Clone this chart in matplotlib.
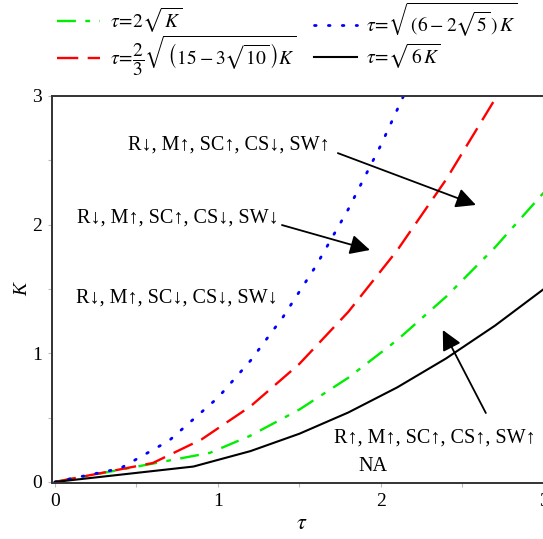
import matplotlib
matplotlib.use("Agg")
import matplotlib.pyplot as plt
from matplotlib.ticker import MultipleLocator

plt.rcParams['font.family'] = ['Liberation Serif', 'DejaVu Serif']
plt.rcParams['mathtext.fontset'] = 'stix'

tau_green = [0, 0.95, 1.2, 1.5, 1.8, 2.1, 2.4, 2.7, 3.0, 3.1]
K_green = [0, 0.226, 0.36, 0.563, 0.81, 1.103, 1.44, 1.823, 2.25, 2.40]

tau_red = [0, 0.6, 0.9, 1.2, 1.5, 1.8, 2.1, 2.4, 2.7, 2.75]
K_red = [0, 0.147, 0.331, 0.588, 0.918, 1.322, 1.80, 2.35, 2.975, 3.09]

tau_blue = [0, 0.4, 0.7, 1.0, 1.2, 1.4, 1.6, 1.8, 2.0, 2.2]
K_blue = [0, 0.105, 0.321, 0.655, 0.943, 1.283, 1.676, 2.12, 2.618, 3.168]

tau_black = [0, 0.85, 1.2, 1.5, 1.8, 2.1, 2.4, 2.7, 3.0, 3.1]
K_black = [0, 0.12, 0.24, 0.375, 0.54, 0.735, 0.96, 1.215, 1.5, 1.6]

labels = [r'$\tau\!=\!2\sqrt{\,K}$',
          r'$\tau\!=\!\dfrac{2}{3}\sqrt{\,\left(15-3\sqrt{10}\,\right)K}$',
          r'$\tau\!=\!\sqrt{\,(6-2\sqrt{5}\,)\,K}$',
          r'$\tau\!=\!\sqrt{\,6\,K}$']

region_texts = ['R↓, M↑, SC↑, CS↓, SW↑',
                'R↓, M↑, SC↑, CS↓, SW↓',
                'R↓, M↑, SC↓, CS↓, SW↓',
                'R↑, M↑, SC↑, CS↑, SW↑',
                'NA']

W, H = 543, 539
fig = plt.figure(figsize=(W/100, H/100), dpi=100)
ax = fig.add_axes([52/W, 56/H, 500/W, 387/H])
ax.set_xlim(-0.018, 3.05)
ax.set_ylim(-0.008, 3.0)

lg, = ax.plot(tau_green, K_green, color='#00ee00', lw=1.7, dashes=(8, 4, 2, 4))
lr, = ax.plot(tau_red, K_red, color='#ff0000', lw=1.7, dashes=(9, 4))
lb, = ax.plot(tau_blue, K_blue, color='#0000ff', lw=2.0, dashes=(0.6, 4.4), dash_capstyle='round')
lk, = ax.plot(tau_black, K_black, color='black', lw=1.5)

for s in ax.spines.values():
    s.set_linewidth(1.4)
    s.set_color('#333333')

ax.xaxis.set_major_locator(MultipleLocator(1))
ax.yaxis.set_major_locator(MultipleLocator(1))
ax.xaxis.set_minor_locator(MultipleLocator(0.5))
ax.yaxis.set_minor_locator(MultipleLocator(0.5))
ax.tick_params(which='both', direction='out', length=3, width=0.8, color='#bbbbbb', labelsize=14, pad=4)

ax.set_xlabel(r'$\tau$', fontsize=16, labelpad=4)
ax.set_ylabel('K', fontsize=14, style='italic', labelpad=1)

fs = 14.5
ax.text(1.068, 2.618, region_texts[0], ha='center', va='center', fontsize=fs)
ax.text(0.752, 2.05, region_texts[1], ha='center', va='center', fontsize=fs)
ax.text(0.75, 1.43, region_texts[2], ha='center', va='center', fontsize=fs)
ax.text(2.331, 0.342, region_texts[3], ha='center', va='center', fontsize=fs)
ax.text(1.951, 0.117, region_texts[4], ha='center', va='center', fontsize=fs)

ap = dict(arrowstyle='-|>', mutation_scale=30, lw=1.3, color='black', shrinkA=0, shrinkB=0)
ax.annotate('', xy=(2.583, 2.153), xytext=(1.736, 2.556), arrowprops=ap)
ax.annotate('', xy=(1.933, 1.803), xytext=(1.393, 1.997), arrowprops=ap)
ax.annotate('', xy=(2.380, 1.181), xytext=(2.644, 0.536), arrowprops=ap)

# legend entries placed as in the original two-column layout
positions = [(57, 20), (57, 56), (314, 20), (314, 56)]
for h, lab, (px, py) in zip([lg, lr, lb, lk], labels, positions):
    fig.legend([h], [lab], loc='center left', bbox_to_anchor=(px/W, 1 - py/H),
               frameon=False, fontsize=14, handlelength=2.2, handletextpad=0.5,
               borderpad=0, borderaxespad=0)

fig.savefig('out.png', dpi=100)
